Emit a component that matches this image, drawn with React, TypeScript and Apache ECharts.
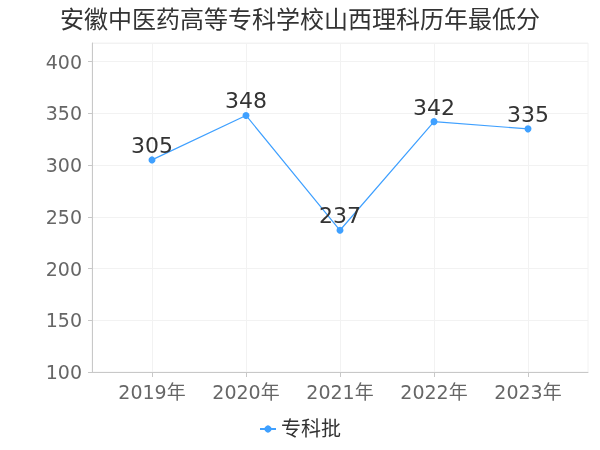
import React, { useEffect, useRef } from "react";
import * as echarts from "echarts";

const titleText = "安徽中医药高等专科学校山西理科历年最低分";
const categories = ["2019年", "2020年", "2021年", "2022年", "2023年"];
const seriesName = "专科批";
const values = [305, 348, 237, 342, 335];
const yMin = 100;
const yMax = 418;
const yInterval = 50;

const FONT = "'DejaVu Sans', 'Noto Sans CJK SC', sans-serif";

export default function App() {
  const ref = useRef<HTMLDivElement>(null);
  useEffect(() => {
    if (!ref.current) return;
    const chart = echarts.init(ref.current, undefined, { renderer: "svg" });
    chart.setOption({
      animation: false,
      textStyle: { fontFamily: FONT },
      title: {
        text: titleText,
        left: "center",
        top: 3,
        textStyle: { fontSize: 24, fontWeight: "normal", color: "#333", fontFamily: FONT },
      },
      legend: {
        bottom: 6,
        left: "center",
        data: [seriesName],
        itemWidth: 16,
        itemHeight: 9,
        textStyle: { fontSize: 20, color: "#333", fontFamily: FONT },
      },
      grid: [
        { left: 92, right: 12, top: 43, bottom: 78, show: true, borderColor: "#f2f2f2", borderWidth: 1, backgroundColor: "transparent" },
        { left: 152, right: 72, top: 43, bottom: 78 },
      ],
      xAxis: [
        {
          gridIndex: 0,
          type: "value",
          min: 0,
          max: 1,
          axisLine: { show: true, lineStyle: { color: "#c8c8c8" } },
          axisTick: { show: false },
          axisLabel: { show: false },
          splitLine: { show: false },
        },
        {
          gridIndex: 1,
          type: "category",
          boundaryGap: false,
          data: categories,
          axisLine: { show: false },
          axisTick: { show: true, length: 5, lineStyle: { color: "#c8c8c8" } },
          axisLabel: { fontSize: 19, color: "#666", margin: 10, fontFamily: FONT },
          splitLine: { show: true, lineStyle: { color: "#f2f2f2" } },
        },
      ],
      yAxis: [
        {
          gridIndex: 0,
          type: "value",
          min: yMin,
          max: yMax,
          interval: yInterval,
          offset: 4,
          axisLine: { show: true, lineStyle: { color: "#c8c8c8" } },
          axisTick: { show: true, length: 4, lineStyle: { color: "#c8c8c8" } },
          axisLabel: { fontSize: 19, color: "#666", margin: 6, showMaxLabel: false, fontFamily: FONT },
          splitLine: { show: true, lineStyle: { color: "#f2f2f2" } },
        },
        {
          gridIndex: 1,
          type: "value",
          min: yMin,
          max: yMax,
          interval: yInterval,
          show: false,
          splitLine: { show: false },
        },
      ],
      series: [
        {
          name: seriesName,
          type: "line",
          xAxisIndex: 1,
          yAxisIndex: 1,
          data: values,
          symbol: "circle",
          symbolSize: 7,
          itemStyle: { color: "#3fa0ff" },
          lineStyle: { color: "#3fa0ff", width: 1.2 },
          label: {
            show: true,
            position: "top",
            distance: 0,
            fontSize: 22,
            color: "#333",
            fontFamily: FONT,
          },
        },
      ],
    });
    return () => chart.dispose();
  }, []);
  return <div ref={ref} style={{ width: 600, height: 450, position: "fixed", left: 0, top: 0 }} />;
}
